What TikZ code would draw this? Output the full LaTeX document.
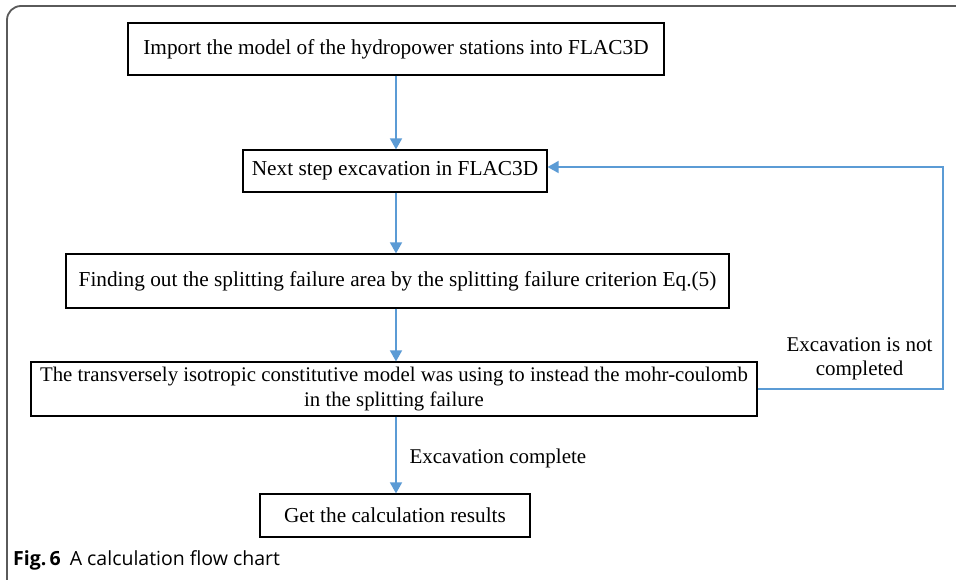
\documentclass[tikz,border=0pt]{standalone}
\usepackage{fontspec}
\setmainfont{Liberation Serif}
\newfontfamily\capfont{Open Sans}
\usetikzlibrary{arrows.meta}
\definecolor{flowblue}{HTML}{5B9BD5}
\definecolor{framegrey}{HTML}{5A5A5A}
\tikzset{
  stepbox/.style={draw=black, line width=1.2pt, minimum height=#1, inner sep=0pt, align=center,
    font=\fontsize{21.3}{25}\selectfont},
  flow/.style={draw=flowblue, line width=1.6pt, -{Triangle[width=12pt,length=11pt]}},
  note/.style={font=\fontsize{21}{24}\selectfont, align=center},
}
\begin{document}
\begin{tikzpicture}[x=1pt,y=-1pt]
\clip (0,0) rectangle (956,579);
\fill[white] (0,0) rectangle (956,579);
% open panel frame
\draw[framegrey, line width=1.8pt, rounded corners=14] (30,600) -- (7,600) -- (7,6) -- (970,6);

% process steps
\node[stepbox=52pt, minimum width=536pt] (import) at (396,49) {Import the model of the hydropower stations into FLAC3D};
\node[stepbox=42pt, minimum width=304pt] (next) at (395,171) {Next step excavation in FLAC3D};
\node[stepbox=54pt, minimum width=663pt] (find) at (397.5,281) {Finding out the splitting failure area by the splitting failure criterion Eq.(5)};
\node[stepbox=54pt, minimum width=726pt, font=\fontsize{20.8}{25}\selectfont] (model) at (394,389) {The transversely isotropic constitutive model was using to instead the mohr-coulomb\\ in the splitting failure};
\node[stepbox=43pt, minimum width=270pt] (result) at (395,515.5) {Get the calculation results};

% main flow
\draw[flow] (import.south -| 396,0) -- (next.north -| 396,0);
\draw[flow] (next.south -| 396,0) -- (find.north -| 396,0);
\draw[flow] (find.south -| 396,0) -- (model.north -| 396,0);
\draw[flow] (model.south -| 396,0) -- (result.north -| 396,0);

% loop back while excavation continues
\coordinate (loopcorner) at (943,389);
\coordinate (loopin) at (next.east |- 0,167);
\draw[flow] (model.east) -- (loopcorner) |- (loopin);

% branch labels
\node[note] (notdone) at (859.5,359) {Excavation is not\\completed};
\node[note, anchor=west] (done) at (406,458) {Excavation complete};

% caption
\node[anchor=base west, inner sep=0pt, font=\capfont\fontsize{19.5}{22}\selectfont] (caption) at (13,565)
  {\textbf{Fig.\,6}\hspace{9pt}A calculation flow chart};
\end{tikzpicture}
\end{document}
